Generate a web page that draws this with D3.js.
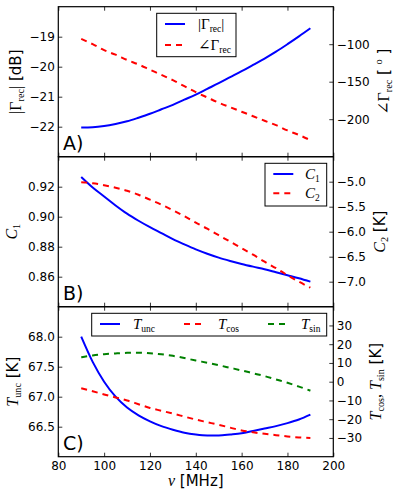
<!DOCTYPE html>
<html>
<head>
<meta charset="utf-8">
<script src="https://cdn.jsdelivr.net/npm/d3@7"></script>
<style>
  body { margin: 0; background: #fff; }
  svg text { font-family: "DejaVu Sans", sans-serif; fill: #000; }
</style>
</head>
<body>
<div id="chart"></div>
<script>
// frequency grid [MHz]
const freq = [90, 95, 100, 105, 110, 115, 120, 125, 130, 135, 140, 145, 150, 155, 160, 165, 170, 175, 180, 185, 190];

// panel A
const gammaMag = [-22.03, -22.02, -21.98, -21.91, -21.82, -21.70, -21.57, -21.42, -21.27, -21.10, -20.93,
                  -20.74, -20.55, -20.35, -20.15, -19.94, -19.73, -19.50, -19.25, -18.99, -18.72];
const gammaPhase = [-93, -100, -108, -114, -121, -127, -134, -141, -148, -156, -164,
                    -171, -178, -184, -190, -196, -202, -208, -215, -221, -228];

// panel B
const c1 = [0.9265, 0.9195, 0.9135, 0.9075, 0.9020, 0.8973, 0.8930, 0.8890, 0.8850, 0.8815, 0.8782,
            0.8753, 0.8727, 0.8705, 0.8685, 0.8667, 0.8650, 0.8630, 0.8610, 0.8590, 0.8567];
const c2 = [-5.01, -5.03, -5.07, -5.12, -5.18, -5.26, -5.36, -5.46, -5.57, -5.69, -5.82,
            -5.94, -6.07, -6.20, -6.33, -6.46, -6.60, -6.73, -6.87, -7.00, -7.12];

// panel C
const tUnc = [68.00, 67.58, 67.25, 67.00, 66.82, 66.69, 66.59, 66.51, 66.45, 66.40, 66.37,
              66.355, 66.355, 66.37, 66.39, 66.43, 66.47, 66.51, 66.56, 66.62, 66.70];
const tCos = [-3.5, -5.1, -6.8, -8.4, -10.0, -12.0, -14.0, -15.5, -17.0, -18.6, -20.2,
              -21.6, -23.0, -24.5, -26.0, -27.0, -27.8, -28.5, -29.2, -29.7, -30.0];
const tSin = [13.0, 14.0, 14.7, 15.1, 15.4, 15.5, 15.2, 14.6, 13.8, 12.6, 11.3,
              10.1, 8.8, 7.4, 6.0, 4.5, 3.0, 1.2, -0.6, -2.6, -4.8];

// tick labels
const xTicks = [80, 100, 120, 140, 160, 180, 200];
const ticksA = [-22, -21, -20, -19];
const ticksAr = [-200, -150, -100];
const ticksB = [0.86, 0.88, 0.90, 0.92];
const ticksBr = [-7.0, -6.5, -6.0, -5.5, -5.0];
const ticksC = [66.5, 67.0, 67.5, 68.0];
const ticksCr = [-30, -20, -10, 0, 10, 20, 30];

const W = 398, H = 501;
const X0 = 58.3, X1 = 333.3;
const PH = 150;
const BLUE = "#0000ff", RED = "#ff0000", GREEN = "#008000";
const SERIF = "'Liberation Serif', 'DejaVu Serif', serif";

const svg = d3.select("#chart").append("svg")
    .attr("width", W).attr("height", H);

const x = d3.scaleLinear().domain([80, 200]).range([X0, X1]);

// write mixed text: parts are [text, style] with style "s" serif, "i" serif italic,
// "sub" subscript, "sup" superscript, "" sans
function writeParts(txt, parts, size) {
    parts.forEach(p => {
        const t = txt.append("tspan").text(p[0]);
        if (["s", "i", "sub", "sup"].includes(p[1])) {
            t.style("font-family", SERIF).style("font-size", (size + 1) + "px");
        }
        if (p[1] === "i") t.style("font-style", "italic");
        if (p[1] === "sub") t.style("font-size", (size * 0.68) + "px").attr("baseline-shift", -size * 0.22);
        if (p[1] === "sup") t.style("font-size", (size * 0.7) + "px").attr("baseline-shift", size * 0.45);
    });
}

function drawPanel(cfg) {
    const top = cfg.top, bottom = top + PH;
    const yL = d3.scaleLinear().domain(cfg.leftDomain).range([bottom, top]);
    const yR = d3.scaleLinear().domain(cfg.rightDomain).range([bottom, top]);
    const g = svg.append("g");

    const line = (scale) => d3.line()
        .x((d, i) => x(freq[i]))
        .y(d => scale(d))
        .curve(d3.curveMonotoneX);

    cfg.series.forEach(s => {
        g.append("path")
            .datum(s.values)
            .attr("fill", "none")
            .attr("stroke", s.color)
            .attr("stroke-width", 2)
            .attr("stroke-dasharray", s.dash ? "6,5" : null)
            .attr("d", line(s.axis === "right" ? yR : yL)(s.values));
    });

    // axes with inward ticks
    const la = g.append("g").attr("transform", `translate(${X0},0)`)
        .call(d3.axisLeft(yL).tickValues(cfg.leftTicks).tickFormat(cfg.leftFmt)
            .tickSizeInner(-4).tickSizeOuter(0).tickPadding(3.5));
    const ra = g.append("g").attr("transform", `translate(${X1},0)`)
        .call(d3.axisRight(yR).tickValues(cfg.rightTicks).tickFormat(cfg.rightFmt)
            .tickSizeInner(-4).tickSizeOuter(0).tickPadding(3.5));
    const ba = g.append("g").attr("transform", `translate(0,${bottom})`)
        .call(d3.axisBottom(x).tickValues(xTicks).tickSizeInner(-4).tickSizeOuter(0).tickPadding(5));
    const ta = g.append("g").attr("transform", `translate(0,${top})`)
        .call(d3.axisTop(x).tickValues(xTicks).tickSizeInner(-4).tickSizeOuter(0).tickFormat(""));
    if (!cfg.xLabels) ba.selectAll("text").remove();
    [la, ra, ba, ta].forEach(a => {
        a.select(".domain").remove();
        a.selectAll("text").style("font-size", "12px").attr("fill", "#000");
        a.selectAll("line").attr("stroke", "#000").attr("stroke-width", 0.8);
    });

    // frame
    g.append("rect")
        .attr("x", X0).attr("y", top).attr("width", X1 - X0).attr("height", PH)
        .attr("fill", "none").attr("stroke", "#000").attr("stroke-width", 1.2);

    // panel tag
    g.append("text").attr("x", 63).attr("y", bottom - 6.5)
        .style("font-size", "19px").text(cfg.tag);

    // y labels
    const lt = g.append("text")
        .attr("transform", `translate(${cfg.leftLabelX},${top + PH / 2}) rotate(-90)`)
        .attr("text-anchor", "middle").style("font-size", "15px");
    writeParts(lt, cfg.leftLabel, 15);
    const rt = g.append("text")
        .attr("transform", `translate(${cfg.rightLabelX},${top + PH / 2}) rotate(-90)`)
        .attr("text-anchor", "middle").style("font-size", "15px");
    writeParts(rt, cfg.rightLabel, 15);

    // legend
    const lg = cfg.legend;
    g.append("rect").attr("x", lg.x0).attr("y", lg.y0)
        .attr("width", lg.x1 - lg.x0).attr("height", lg.y1 - lg.y0)
        .attr("fill", "#fff").attr("stroke", "#000").attr("stroke-width", 1);
    lg.items.forEach(it => {
        g.append("line")
            .attr("x1", it.lx).attr("x2", it.lx + 20).attr("y1", it.y).attr("y2", it.y)
            .attr("stroke", it.color).attr("stroke-width", 2)
            .attr("stroke-dasharray", it.dash ? "6,5" : null);
        const t = g.append("text").attr("x", it.tx).attr("y", it.y + 5).style("font-size", "14px");
        writeParts(t, it.label, 14);
    });
}

drawPanel({
    top: 6.7, tag: "A)",
    leftDomain: [-23, -18], leftTicks: ticksA, leftFmt: d3.format("d"),
    rightDomain: [-250, -50], rightTicks: ticksAr, rightFmt: d3.format("d"),
    series: [
        { values: gammaMag, axis: "left", color: BLUE },
        { values: gammaPhase, axis: "right", color: RED, dash: true },
    ],
    leftLabelX: 21, rightLabelX: 389,
    leftLabel: [["|Γ", "s"], ["rec", "sub"], ["|", "s"], [" [dB]", ""]],
    rightLabel: [["∠Γ", "s"], ["rec", "sub"], [" [ ", ""], ["o", "sup"], [" ]", ""]],
    legend: {
        x0: 156.7, x1: 236, y0: 13.3, y1: 56.7,
        items: [
            { lx: 165, tx: 198, y: 24, color: BLUE, label: [["|Γ", "s"], ["rec", "sub"], ["|", "s"]] },
            { lx: 165, tx: 198, y: 45, color: RED, dash: true, label: [["∠Γ", "s"], ["rec", "sub"]] },
        ],
    },
});

drawPanel({
    top: 156.7, tag: "B)",
    leftDomain: [0.84, 0.94], leftTicks: ticksB, leftFmt: d3.format(".2f"),
    rightDomain: [-7.5, -4.5], rightTicks: ticksBr, rightFmt: d3.format(".1f"),
    series: [
        { values: c1, axis: "left", color: BLUE },
        { values: c2, axis: "right", color: RED, dash: true },
    ],
    leftLabelX: 17, rightLabelX: 385,
    leftLabel: [["C", "i"], ["1", "sub"]],
    rightLabel: [["C", "i"], ["2", "sub"], [" [K]", ""]],
    legend: {
        x0: 265, x1: 326.7, y0: 163.3, y1: 206,
        items: [
            { lx: 273.3, tx: 305, y: 174, color: BLUE, label: [["C", "i"], ["1", "sub"]] },
            { lx: 273.3, tx: 305, y: 193.3, color: RED, dash: true, label: [["C", "i"], ["2", "sub"]] },
        ],
    },
});

drawPanel({
    top: 306.7, tag: "C)", xLabels: true,
    leftDomain: [66, 68.5], leftTicks: ticksC, leftFmt: d3.format(".1f"),
    rightDomain: [-40, 40], rightTicks: ticksCr, rightFmt: d3.format("d"),
    series: [
        { values: tUnc, axis: "left", color: BLUE },
        { values: tCos, axis: "right", color: RED, dash: true },
        { values: tSin, axis: "right", color: GREEN, dash: true },
    ],
    leftLabelX: 18, rightLabelX: 381,
    leftLabel: [["T", "i"], ["unc", "sub"], [" [K]", ""]],
    rightLabel: [["T", "i"], ["cos", "sub"], [", ", "s"], ["T", "i"], ["sin", "sub"], [" [K]", ""]],
    legend: {
        x0: 91.7, x1: 326.7, y0: 313.3, y1: 336,
        items: [
            { lx: 100, tx: 133, y: 324, color: BLUE, label: [["T", "i"], ["unc", "sub"]] },
            { lx: 184, tx: 218, y: 324, color: RED, dash: true, label: [["T", "i"], ["cos", "sub"]] },
            { lx: 268, tx: 301, y: 324, color: GREEN, dash: true, label: [["T", "i"], ["sin", "sub"]] },
        ],
    },
});

// x axis label
const xl = svg.append("text").attr("x", (X0 + X1) / 2).attr("y", 486)
    .attr("text-anchor", "middle").style("font-size", "15px");
writeParts(xl, [["ν", "i"], [" [MHz]", ""]], 15);
</script>
</body>
</html>
